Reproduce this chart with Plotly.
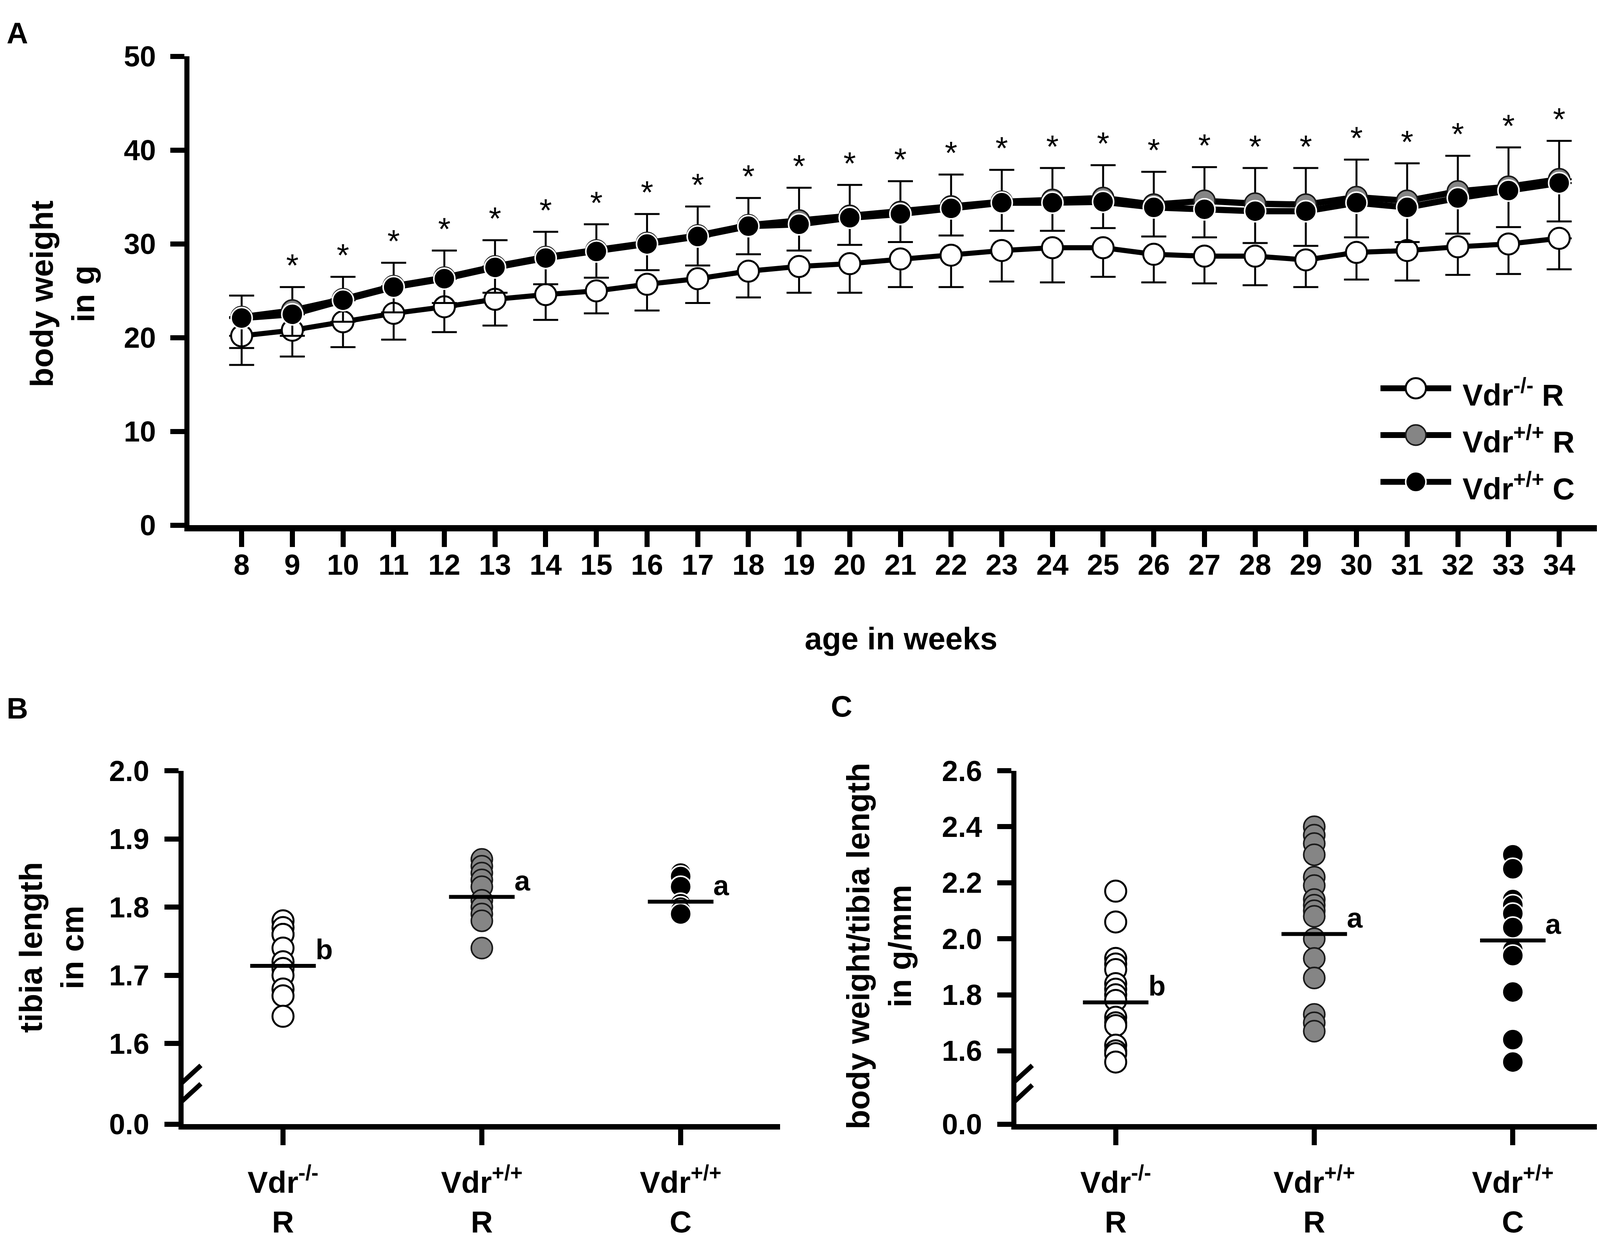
import plotly.graph_objects as go

W, H = 4129, 3189
FONT = "Liberation Sans"

# ---------------- Panel A data ----------------
weeks = list(range(8, 35))
sig_weeks = list(range(9, 35))
vdr_ko_R = [20.2, 20.8, 21.7, 22.6, 23.3, 24.1, 24.6, 25.0, 25.7, 26.3, 27.1, 27.6, 27.9, 28.4,
            28.8, 29.3, 29.6, 29.6, 28.9, 28.7, 28.7, 28.3, 29.1, 29.3, 29.7, 30.0, 30.6]
vdr_ko_R_sd = [3.1, 2.8, 2.7, 2.8, 2.7, 2.8, 2.7, 2.4, 2.8, 2.6, 2.8, 2.8, 3.1, 3.0,
               3.4, 3.3, 3.7, 3.1, 3.0, 2.9, 3.1, 2.9, 2.9, 3.2, 3.0, 3.2, 3.3]
vdr_wt_R = [22.2, 22.9, 24.1, 25.5, 26.4, 27.6, 28.6, 29.3, 30.1, 30.9, 32.0, 32.5, 33.0, 33.4,
            34.0, 34.5, 34.7, 34.9, 34.2, 34.6, 34.3, 34.2, 35.0, 34.6, 35.6, 36.1, 36.9]
vdr_wt_R_sd = [2.3, 2.5, 2.4, 2.5, 2.9, 2.8, 2.7, 2.8, 3.1, 3.1, 2.9, 3.5, 3.3, 3.3,
               3.4, 3.4, 3.4, 3.5, 3.5, 3.6, 3.8, 3.9, 4.0, 4.0, 3.8, 4.2, 4.1]
vdr_wt_C = [22.1, 22.5, 24.0, 25.4, 26.3, 27.5, 28.5, 29.2, 30.0, 30.8, 31.9, 32.1, 32.8, 33.2,
            33.8, 34.4, 34.4, 34.5, 33.9, 33.7, 33.5, 33.5, 34.4, 33.9, 34.9, 35.7, 36.5]
vdr_wt_C_sd = [3.2, 2.3, 2.3, 2.7, 2.6, 2.7, 2.8, 2.8, 2.8, 3.1, 3.0, 2.8, 2.9, 3.0,
               2.9, 3.0, 3.0, 2.8, 3.1, 3.0, 3.4, 3.7, 3.7, 3.7, 3.8, 3.9, 4.1]

legend_names = ["Vdr<sup>-/-</sup> R", "Vdr<sup>+/+</sup> R", "Vdr<sup>+/+</sup> C"]

# ---------------- Panels B / C data ----------------
groups = [1, 2, 3]
group_labels = ["Vdr<sup>-/-</sup><br>R", "Vdr<sup>+/+</sup><br>R", "Vdr<sup>+/+</sup><br>C"]

tibia_ko_R = [1.78, 1.77, 1.76, 1.76, 1.74, 1.72, 1.71, 1.70, 1.68, 1.67, 1.64]
tibia_wt_R = [1.87, 1.86, 1.85, 1.84, 1.83, 1.81, 1.80, 1.79, 1.78, 1.74]
tibia_wt_C = [1.85, 1.845, 1.83, 1.805, 1.80, 1.795, 1.79]
tibia_means = [1.714, 1.815, 1.808]
tibia_letters = ["b", "a", "a"]

ratio_ko_R = [2.17, 2.06, 1.93, 1.91, 1.89, 1.84, 1.82, 1.80, 1.78, 1.72, 1.70, 1.69, 1.62, 1.60, 1.59, 1.56]
ratio_wt_R = [2.40, 2.37, 2.34, 2.30, 2.22, 2.19, 2.14, 2.12, 2.10, 2.08, 2.00, 1.93, 1.86, 1.73, 1.70, 1.67]
ratio_wt_C = [2.30, 2.25, 2.14, 2.12, 2.09, 2.04, 1.96, 1.94, 1.81, 1.64, 1.56]
ratio_means = [1.773, 2.017, 1.994]
ratio_letters = ["b", "a", "a"]

# ---------------- styles ----------------
WHITE_M = dict(symbol="circle", color="white", line=dict(color="black", width=5))
GRAY_M = dict(symbol="circle", color="#858585", line=dict(color="#1a1a1a", width=4))
BLACK_M = dict(symbol="circle", color="black", line=dict(color="white", width=4))
styles = [WHITE_M, GRAY_M, BLACK_M]

B_ZERO = 1.4817   # position of the "0.0" tick after the axis break
C_ZERO = 1.3378


def bold(size):
    return dict(family=FONT, size=size, color="black", weight="bold")


fig = go.Figure()

# ---------------- Panel A traces ----------------
zeros = [0] * len(weeks)
MS_A = 54
fig.add_trace(go.Scatter(
    x=weeks, y=vdr_ko_R, mode="lines+markers", xaxis="x", yaxis="y",
    line=dict(color="black", width=13), marker=dict(size=MS_A, **WHITE_M),
    error_y=dict(type="data", symmetric=False, array=zeros, arrayminus=vdr_ko_R_sd,
                 color="black", thickness=5, width=32),
    showlegend=False, hoverinfo="skip"))
fig.add_trace(go.Scatter(
    x=weeks, y=vdr_wt_R, mode="lines+markers", xaxis="x", yaxis="y",
    line=dict(color="black", width=16), marker=dict(size=MS_A, **GRAY_M),
    error_y=dict(type="data", symmetric=False, array=vdr_wt_R_sd, arrayminus=zeros,
                 color="black", thickness=5, width=32),
    showlegend=False, hoverinfo="skip"))
fig.add_trace(go.Scatter(
    x=weeks, y=vdr_wt_C, mode="lines+markers", xaxis="x", yaxis="y",
    line=dict(color="black", width=16), marker=dict(size=MS_A, **BLACK_M),
    error_y=dict(type="data", symmetric=False, array=zeros, arrayminus=vdr_wt_C_sd,
                 color="black", thickness=5, width=32),
    showlegend=False, hoverinfo="skip"))

# significance asterisks above the upper error bars
star_y = [vdr_wt_R[weeks.index(w)] + vdr_wt_R_sd[weeks.index(w)] + 2.0 for w in sig_weeks]
fig.add_trace(go.Scatter(
    x=sig_weeks, y=star_y, mode="text", text=["*"] * len(sig_weeks),
    textposition="middle center", textfont=dict(family=FONT, size=82, color="black"),
    xaxis="x", yaxis="y", showlegend=False, hoverinfo="skip", cliponaxis=False))

# legend (drawn on its own hidden axes)
LEG_DOMAIN = [1 - 1277.5 / H, 1 - 908.5 / H]
for i, st in enumerate(styles):
    fig.add_trace(go.Scatter(x=[0, 1], y=[i, i], mode="lines", xaxis="x4", yaxis="y4",
                             line=dict(color="black", width=15), showlegend=False, hoverinfo="skip"))
    fig.add_trace(go.Scatter(x=[0.5], y=[i], mode="markers", xaxis="x4", yaxis="y4",
                             marker=dict(size=52, **st), showlegend=False, hoverinfo="skip"))

# ---------------- Panels B and C traces ----------------
def add_dot_panel(xa, ya, series, means):
    for g, vals, st in zip(groups, series, styles):
        fig.add_trace(go.Scatter(x=[g] * len(vals), y=vals, mode="markers", xaxis=xa, yaxis=ya,
                                 marker=dict(size=54, **st), showlegend=False, hoverinfo="skip",
                                 cliponaxis=False))
    for g, m in zip(groups, means):
        fig.add_trace(go.Scatter(x=[g - 0.165, g + 0.165], y=[m, m], mode="lines", xaxis=xa, yaxis=ya,
                                 line=dict(color="black", width=10), showlegend=False, hoverinfo="skip"))


add_dot_panel("x2", "y2", [tibia_ko_R, tibia_wt_R, tibia_wt_C], tibia_means)
add_dot_panel("x3", "y3", [ratio_ko_R, ratio_wt_R, ratio_wt_C], ratio_means)

# ---------------- axes ----------------
axis_common = dict(showgrid=False, zeroline=False, showline=True, linecolor="black",
                   ticks="outside", tickcolor="black", tickwidth=13, tickfont=bold(74))

fig.update_layout(
    width=W, height=H, margin=dict(l=0, r=0, t=0, b=0),
    paper_bgcolor="white", plot_bgcolor="white",
    xaxis=dict(domain=[477 / W, 4121 / W], range=[6.97, 35.06], anchor="y",
               tickvals=weeks, ticklen=40, linewidth=16, ticklabelstandoff=-18, **axis_common),
    yaxis=dict(domain=[1 - 1330 / H, 1 - 98 / H], range=[0, 50], anchor="x",
               tickvals=[0, 10, 20, 30, 40, 50], ticklen=36, linewidth=13,
               ticklabelstandoff=22, **axis_common),
    xaxis2=dict(domain=[462 / W, 1989 / W], range=[0.5, 3.5], anchor="y2",
                tickvals=groups, ticktext=group_labels, ticklen=40, linewidth=14,
                ticklabelstandoff=28, **{**axis_common, "tickfont": bold(78)}),
    yaxis2=dict(domain=[1 - 2904 / H, 1 - 1975 / H], range=[B_ZERO, 2.0], anchor="x2",
                tickvals=[B_ZERO, 1.6, 1.7, 1.8, 1.9, 2.0],
                ticktext=["0.0", "1.6", "1.7", "1.8", "1.9", "2.0"],
                ticklen=36, linewidth=13, ticklabelstandoff=24, **axis_common),
    xaxis3=dict(domain=[2594 / W, 4119 / W], range=[0.5, 3.5], anchor="y3",
                tickvals=groups, ticktext=group_labels, ticklen=40, linewidth=14,
                ticklabelstandoff=28, **{**axis_common, "tickfont": bold(78)}),
    yaxis3=dict(domain=[1 - 2904 / H, 1 - 1975 / H], range=[C_ZERO, 2.6], anchor="x3",
                tickvals=[C_ZERO, 1.6, 1.8, 2.0, 2.2, 2.4, 2.6],
                ticktext=["0.0", "1.6", "1.8", "2.0", "2.2", "2.4", "2.6"],
                ticklen=36, linewidth=13, ticklabelstandoff=24, **axis_common),
    xaxis4=dict(domain=[3526 / W, 3707 / W], range=[0, 1], visible=False, anchor="y4"),
    yaxis4=dict(domain=LEG_DOMAIN, range=[2.5, -0.5], visible=False, anchor="x4"),
)

# ---------------- annotations ----------------
ann = []
for lbl, x, y in [("A", 36, 36), ("B", 36, 1811), ("C", 2146, 1805)]:
    ann.append(dict(text=lbl, x=x / W, y=1 - y / H, xref="paper", yref="paper",
                    xanchor="center", yanchor="middle", showarrow=False, font=bold(76)))

ann.append(dict(text="body weight<br>in g", x=152 / W, y=1 - 722 / H, xref="paper", yref="paper",
                textangle=-90, xanchor="center", yanchor="middle", showarrow=False, font=bold(82)))
ann.append(dict(text="age in weeks", x=2299 / W, y=1 - 1628 / H, xref="paper", yref="paper",
                xanchor="center", yanchor="middle", showarrow=False, font=bold(80)))
ann.append(dict(text="tibia length<br>in cm", x=124 / W, y=1 - 2440 / H, xref="paper", yref="paper",
                textangle=-90, xanchor="center", yanchor="middle", showarrow=False, font=bold(82)))
ann.append(dict(text="body weight/tibia length<br>in g/mm", x=2242 / W, y=1 - 2436 / H,
                xref="paper", yref="paper", textangle=-90, xanchor="center", yanchor="middle",
                showarrow=False, font=bold(82)))

# legend labels (paper coordinates derived from the legend axes layout)
leg_span = LEG_DOMAIN[1] - LEG_DOMAIN[0]
for i, name in enumerate(legend_names):
    row_y = LEG_DOMAIN[0] + (2.5 - i) / 3.0 * leg_span
    ann.append(dict(text=name, x=3734 / W, y=row_y - 12 / H, xref="paper", yref="paper",
                    xanchor="left", yanchor="middle", showarrow=False, font=bold(78)))

for g, m, t in zip(groups, tibia_means, tibia_letters):
    ann.append(dict(text=t, x=g + 0.16, y=m, xref="x2", yref="y2", xanchor="left", yanchor="bottom",
                    showarrow=False, font=bold(72)))
for g, m, t in zip(groups, ratio_means, ratio_letters):
    ann.append(dict(text=t, x=g + 0.16, y=m, xref="x3", yref="y3", xanchor="left", yanchor="bottom",
                    showarrow=False, font=bold(72)))
fig.update_layout(annotations=ann)

# ---------------- axis-break marks ----------------
shapes = []
# panel B
shapes.append(dict(type="rect", xref="x2", yref="y2", x0=0.47, x1=0.53, y0=1.518, y1=1.545,
                   fillcolor="white", line=dict(width=0), layer="above"))
for y0, y1 in [(1.526, 1.568), (1.499, 1.541)]:
    shapes.append(dict(type="line", xref="x2", yref="y2", x0=0.430, x1=0.587, y0=y0, y1=y1,
                       line=dict(color="black", width=12), layer="above"))
# panel C
shapes.append(dict(type="rect", xref="x3", yref="y3", x0=0.47, x1=0.53, y0=1.425, y1=1.496,
                   fillcolor="white", line=dict(width=0), layer="above"))
for y0, y1 in [(1.452, 1.548), (1.380, 1.478)]:
    shapes.append(dict(type="line", xref="x3", yref="y3", x0=0.432, x1=0.580, y0=y0, y1=y1,
                       line=dict(color="black", width=12), layer="above"))
fig.update_layout(shapes=shapes)

fig.write_html("out.html")
